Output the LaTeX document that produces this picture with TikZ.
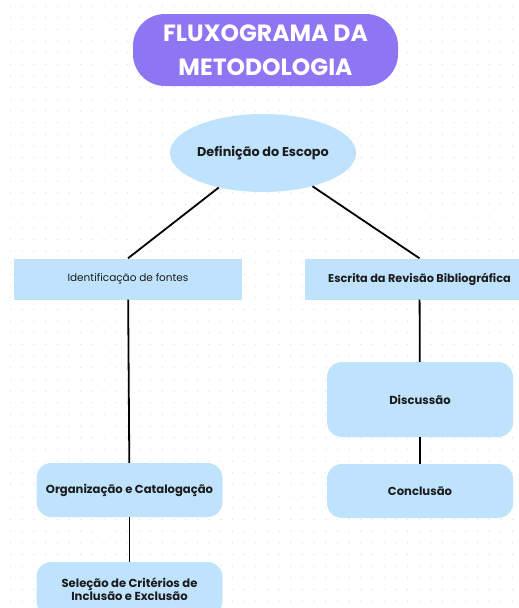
\documentclass[tikz,border=0pt]{standalone}
\usepackage{fontspec}
\setmainfont{Poppins}
\usetikzlibrary{shapes.geometric}
\definecolor{boxblue}{HTML}{BFE3FD}
\definecolor{titlepurple}{HTML}{8E76F3}
\definecolor{textdark}{HTML}{1C1C1C}
\definecolor{dotgray}{HTML}{E2E2E2}
\begin{document}
\begin{tikzpicture}[
    x=1pt, y=-1pt,
    titlebox/.style={rectangle, fill=titlepurple, rounded corners=32pt,
               minimum width=265pt, minimum height=72pt, inner sep=0pt,
               align=center, text=white,
               font=\fontsize{23.5}{34}\selectfont\bfseries},
    oval/.style={ellipse, fill=boxblue, minimum width=182pt, minimum height=78pt,
               inner sep=0pt, text=textdark, font=\fontsize{12.8}{15}\selectfont\bfseries},
    flat/.style={rectangle, fill=boxblue, minimum height=41pt, inner sep=0pt,
               align=center, text=textdark},
    soft/.style={rectangle, fill=boxblue, rounded corners=15pt,
               minimum width=186pt, minimum height=54pt, inner sep=0pt,
               align=center, text=textdark, font=\fontsize{11.6}{13.5}\selectfont\bfseries},
    link/.style={line width=1.8pt, black}
]
\useasboundingbox (0,0) rectangle (519,608);
\clip (0,0) rectangle (519,608);
% dotted background
\foreach \i in {0,...,44}
  \foreach \j in {0,...,52}
    \fill[dotgray] (10.7+11.67*\i, 6+11.67*\j) circle (0.75pt);

\node[titlebox] (title) at (265.5, 50) {FLUXOGRAMA DA\\METODOLOGIA};
\node[oval] (def) at (263, 153) {Definição do Escopo};
\node[flat, minimum width=228pt, font=\fontsize{10.5}{12}\selectfont] (ident) at (128, 279) {Identificação de fontes};
\node[flat, minimum width=229pt, font=\fontsize{11.3}{13}\selectfont\bfseries] (escr) at (419.5, 279) {Escrita da Revisão Bibliográfica};
\node[soft, minimum height=75pt] (disc) at (420, 399.5) {Discussão};
\node[soft] (concl) at (420, 491) {Conclusão};
\node[soft] (org) at (129.5, 490) {Organização e Catalogação};
\node[soft] (sel) at (129.5, 589) {Seleção de Critérios de\\Inclusão e Exclusão};

\draw[link] (def) -- (ident.north);
\draw[link] (def) -- (escr.north);
\draw[link] (ident) -- (org);
\draw[link] (org) -- (sel);
\draw[link] (escr) -- (disc);
\draw[link] (disc) -- (concl);
\end{tikzpicture}
\end{document}
